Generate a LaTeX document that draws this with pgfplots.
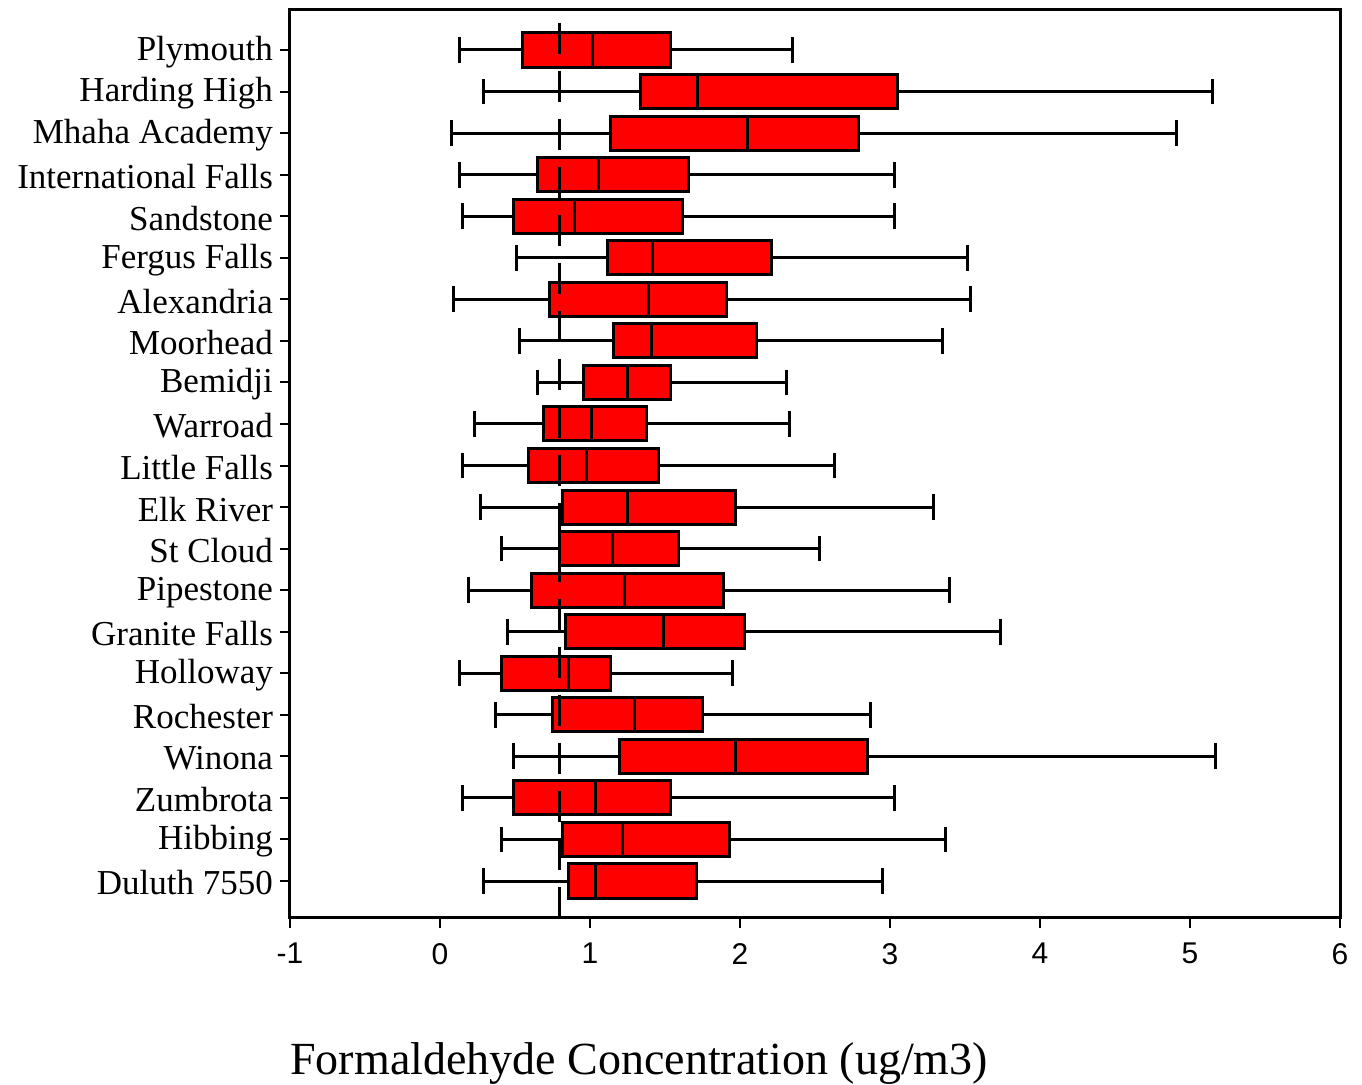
\documentclass[border=0pt]{standalone}
\usepackage{fontspec}
\setmainfont{Liberation Serif}
\setsansfont{Liberation Sans}
\usepackage{pgfplots}
\usepgfplotslibrary{statistics}
\pgfplotsset{compat=1.18}

% one horizontal box per site: position, lower whisker, Q1, median, Q3, upper whisker
\newcommand{\site}[6]{%
  \addplot[draw=black, fill=red, line width=1.5pt,
    boxplot prepared={draw position=#1, lower whisker=#2, lower quartile=#3,
      median=#4, upper quartile=#5, upper whisker=#6}] coordinates {};}

\begin{document}
\begin{tikzpicture}
\begin{axis}[
  scale only axis, width=525pt, height=454pt,
  xmin=-1, xmax=6, ymin=-0.89, ymax=20.963,
  xtick={-1,0,...,6}, xticklabels={-1,0,1,2,3,4,5,6},
  ytick={0,1,...,20},
  yticklabels={Duluth 7550, Hibbing, Zumbrota, Winona, Rochester, Holloway,
    Granite Falls, Pipestone, St Cloud, Elk River, Little Falls, Warroad,
    Bemidji, Moorhead, Alexandria, Fergus Falls, Sandstone,
    International Falls, Mhaha Academy, Harding High, Plymouth},
  tick align=outside, xtick pos=lower, ytick pos=left,
  major tick length=5pt,
  tick style={line width=1pt, black},
  axis line style={line width=1.5pt},
  x tick label style={font=\sffamily\fontsize{15}{18}\selectfont, yshift=-4pt},
  y tick label style={font=\fontsize{17.5}{21}\selectfont, yshift=-1pt},
  boxplot/box extend=0.82, boxplot/whisker extend=0.62,
  clip=false,
]
\site{20}{0.127}{0.553}{1.020}{1.540}{2.353}
\site{19}{0.293}{1.340}{1.720}{3.053}{5.153}
\site{18}{0.080}{1.140}{2.053}{2.787}{4.913}
\site{17}{0.127}{0.653}{1.060}{1.660}{3.033}
\site{16}{0.153}{0.493}{0.900}{1.620}{3.033}
\site{15}{0.513}{1.120}{1.420}{2.207}{3.520}
\site{14}{0.093}{0.733}{1.387}{1.907}{3.540}
\site{13}{0.533}{1.160}{1.407}{2.107}{3.353}
\site{12}{0.653}{0.960}{1.247}{1.540}{2.307}
\site{11}{0.227}{0.693}{1.007}{1.380}{2.333}
\site{10}{0.153}{0.593}{0.980}{1.460}{2.633}
\site{9}{0.273}{0.820}{1.247}{1.967}{3.293}
\site{8}{0.413}{0.800}{1.147}{1.587}{2.533}
\site{7}{0.193}{0.613}{1.227}{1.887}{3.400}
\site{6}{0.453}{0.840}{1.487}{2.027}{3.740}
\site{5}{0.127}{0.413}{0.860}{1.140}{1.953}
\site{4}{0.373}{0.753}{1.300}{1.747}{2.873}
\site{3}{0.493}{1.200}{1.973}{2.853}{5.173}
\site{2}{0.153}{0.493}{1.040}{1.540}{3.033}
\site{1}{0.413}{0.820}{1.220}{1.927}{3.373}
\site{0}{0.293}{0.860}{1.040}{1.707}{2.953}
% reference level at 0.8 ug/m3
\addplot[black, line width=1.5pt, dash pattern=on 15.5pt off 8.5pt]
  coordinates {(0.8,-0.89) (0.8,20.963)};
\end{axis}
\node[anchor=base west, inner sep=0pt, font=\fontsize{23}{27}\selectfont]
  at ([yshift=-78.5pt]current axis.south west) {Formaldehyde Concentration (ug/m3)};
\path (current axis.south west) ++(-145pt,-83.5pt);
\path (current axis.south west) ++(536pt,459pt);
\end{tikzpicture}
\end{document}
